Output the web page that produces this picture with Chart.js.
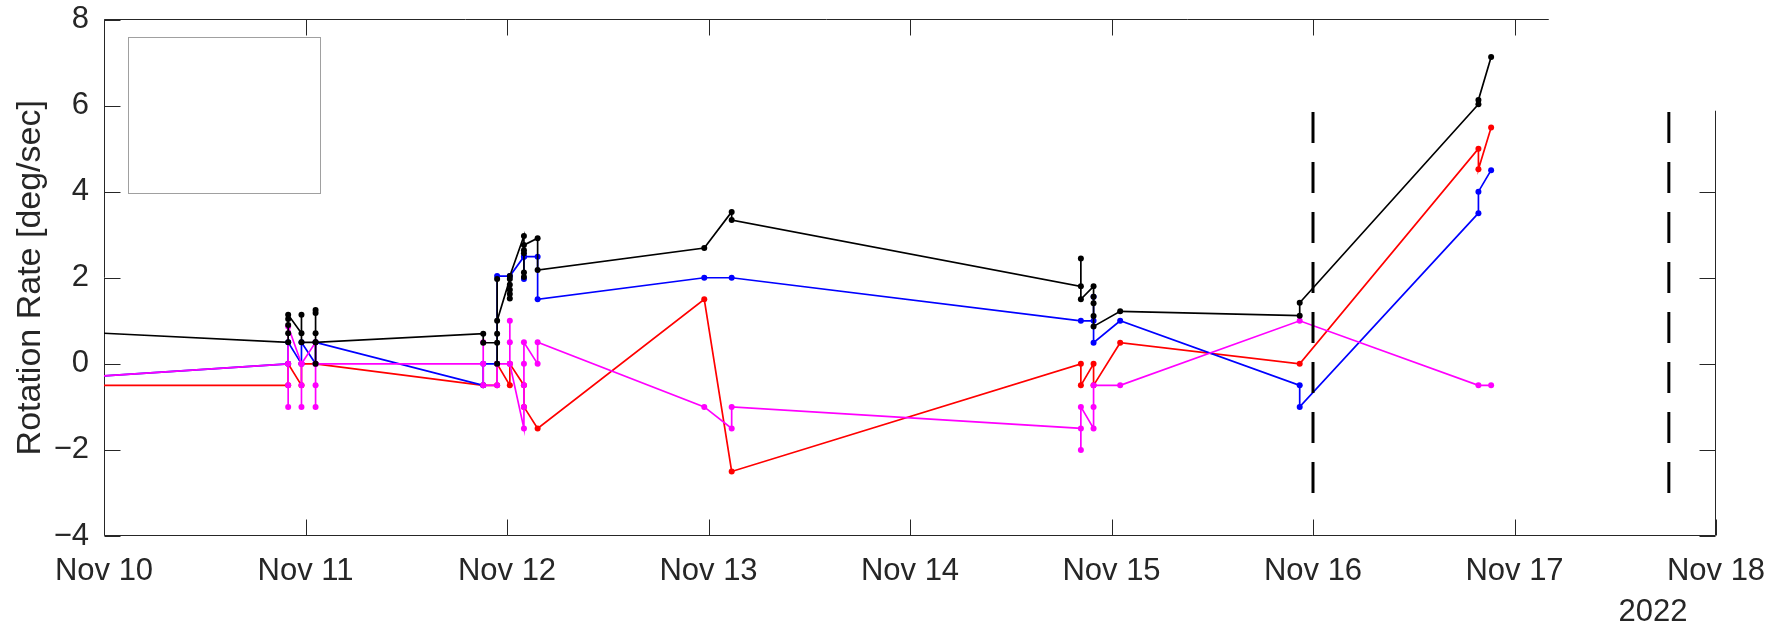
<!DOCTYPE html>
<html>
<head>
<meta charset="utf-8">
<script src="https://cdn.jsdelivr.net/npm/chart.js@4/dist/chart.umd.min.js"></script>
<style>
  html, body { margin: 0; padding: 0; background: #fff; }
  canvas { display: block; }
</style>
</head>
<body>
<canvas id="rateChart" width="1778" height="627"></canvas>
<script>
// sample times, in days after Nov 10 2022 00:00
const sampleDays = [0, 0.914, 0.980, 1.050, 1.882, 1.951, 2.014, 2.084, 2.152,
  2.979, 3.115, 4.848, 4.911, 5.043, 5.934, 6.821, 6.884]

// rates at each sample time (several readings per time, in plotting order)
const blackRate = [
  [0.71],
  [0.50, 0.71, 0.90, 1.04, 1.14],
  [0.71, 1.14, 0.50],
  [0.50, 0.00, 0.71, 1.18, 1.25, 0.50],
  [0.70, 0.49],
  [0.49, 0.00, 0.70, 1.97, 1.00],
  [1.97, 1.84, 1.72, 1.62, 1.52, 2.04],
  [2.97, 2.02, 2.12, 2.57, 2.64, 2.76],
  [2.92, 2.18],
  [2.69],
  [3.53, 3.34],
  [1.80, 2.45, 1.50],
  [1.80, 1.56, 1.41, 1.11, 0.87],
  [1.22],
  [1.12, 1.42],
  [6.03, 6.13],
  [7.13]
]
const blueRate = [
  [-0.28],
  [0.00, 0.50],
  [0.00, 0.50],
  [0.00, 0.50],
  [-0.50, 0.00],
  [0.00, 2.04],
  [2.04],
  [2.49, 1.97, 2.49],
  [2.49, 1.50],
  [2.00],
  [2.00],
  [1.00],
  [1.00, 1.56, 0.49],
  [1.00],
  [-0.50, -1.00],
  [3.50, 4.00],
  [4.50]
]
const redRate = [
  [-0.50],
  [-0.50, 0.00],
  [-0.50, 0.00],
  [0.00],
  [-0.50],
  [-0.50, 0.00],
  [-0.50, 0.00],
  [-0.50, -1.00],
  [-1.50],
  [1.50],
  [-2.50],
  [0.00, -0.50],
  [0.00, -0.50],
  [0.49],
  [0.00],
  [5.00, 4.52],
  [5.49]
]
const magentaRate = [
  [-0.28],
  [0.00, -0.50, -1.00, 0.87],
  [0.00, -0.50, -1.00, 0.00],
  [0.50, -0.50, -1.00, 0.00],
  [0.00, 0.50, -0.50],
  [-0.50, 0.00],
  [0.00, 1.00, 0.50, 0.00],
  [-1.50, -1.00, -0.50, 0.00, 0.50],
  [0.00, 0.50],
  [-1.00],
  [-1.50, -1.00],
  [-1.50, -2.00, -1.00],
  [-1.50, -1.00, -0.50],
  [-0.50],
  [1.00],
  [-0.50],
  [-0.50]
]

// dashed event markers
const eventDays = [6.0, 7.766]
const eventSpan = [-3, 6]

const dayLabels = ['Nov 10', 'Nov 11', 'Nov 12', 'Nov 13', 'Nov 14', 'Nov 15', 'Nov 16', 'Nov 17', 'Nov 18']
const yearLabel = '2022'

const axisColor = '#262626'
const tickLen = 16
// the top edge of the box is hidden past this day, the right edge above this rate
const frameCut = { day: 7.17, rate: 5.88 }

Chart.defaults.font.family = '"Liberation Sans", Arial, Helvetica, sans-serif'
Chart.defaults.color = axisColor

function toPoints (groups) {
  const pts = []
  groups.forEach((g, i) => g.forEach(v => pts.push({ x: sampleDays[i], y: v })))
  return pts
}

function series (groups, color) {
  return {
    data: toPoints(groups),
    borderColor: color,
    backgroundColor: color,
    borderWidth: 1.7,
    pointRadius: ctx => (ctx.raw && ctx.raw.x > 0 ? 3 : 0),
    pointBorderWidth: 0,
    pointBackgroundColor: color,
    tension: 0
  }
}

function eventLine (day) {
  return {
    data: [{ x: day, y: eventSpan[0] }, { x: day, y: eventSpan[1] }],
    borderColor: '#000',
    borderWidth: 3,
    borderDash: [31, 19],
    pointRadius: 0
  }
}

const axisLines = {
  id: 'axisLines',
  beforeDatasetsDraw (chart) {
    const { ctx, chartArea: a, scales: { x, y } } = chart
    const L = Math.round(a.left) + 0.5
    const R = Math.round(a.right) - 0.5
    const T = Math.round(a.top) - 0.5
    const B = Math.round(a.bottom) - 0.5
    const topEnd = x.getPixelForValue(frameCut.day)
    const rightTop = y.getPixelForValue(frameCut.rate)
    ctx.save()
    ctx.strokeStyle = axisColor
    ctx.lineWidth = 1
    ctx.beginPath()
    ctx.moveTo(topEnd, T)
    ctx.lineTo(L, T)
    ctx.lineTo(L, B)
    ctx.lineTo(R, B)
    ctx.lineTo(R, rightTop)
    x.ticks.forEach(t => {
      const px = Math.round(x.getPixelForValue(t.value)) + 0.5
      ctx.moveTo(px, B)
      ctx.lineTo(px, B - tickLen)
      if (px < topEnd) {
        ctx.moveTo(px, T)
        ctx.lineTo(px, T + tickLen)
      }
    })
    y.ticks.forEach(t => {
      const py = Math.round(y.getPixelForValue(t.value)) + 0.5
      ctx.moveTo(L, py)
      ctx.lineTo(L + tickLen, py)
      if (py > rightTop) {
        ctx.moveTo(R, py)
        ctx.lineTo(R - tickLen, py)
      }
    })
    ctx.stroke()
    ctx.restore()
  },
  afterDraw (chart) {
    const { ctx, chartArea: a } = chart
    ctx.save()
    // empty legend box
    ctx.fillStyle = '#fff'
    ctx.strokeStyle = '#a0a0a0'
    ctx.lineWidth = 1
    ctx.fillRect(a.left + 24.5, a.top + 18, 192, 156)
    ctx.strokeRect(a.left + 24.5, a.top + 18, 192, 156)
    // year under the time axis
    ctx.fillStyle = axisColor
    ctx.font = '31px "Liberation Sans", Arial, sans-serif'
    ctx.textAlign = 'center'
    ctx.textBaseline = 'middle'
    ctx.fillText(yearLabel, a.right - 63, a.bottom + 76)
    ctx.restore()
  }
}

new Chart(document.getElementById('rateChart'), {
  type: 'line',
  data: {
    datasets: [
      eventLine(eventDays[0]),
      eventLine(eventDays[1]),
      series(blackRate, '#000000'),
      series(magentaRate, '#ff00ff'),
      series(blueRate, '#0000ff'),
      series(redRate, '#ff0000')
    ]
  },
  options: {
    responsive: false,
    animation: false,
    devicePixelRatio: 1,
    events: [],
    layout: { padding: { top: 19.5, right: 62, left: 0, bottom: 0 } },
    plugins: {
      legend: { display: false },
      tooltip: { enabled: false }
    },
    scales: {
      x: {
        type: 'linear',
        min: 0,
        max: 8,
        grid: { display: false, drawTicks: false },
        border: { display: false },
        ticks: {
          stepSize: 1,
          autoSkip: false,
          maxRotation: 0,
          padding: 17,
          font: { size: 31 },
          callback: v => dayLabels[v]
        },
        afterFit: s => {
          s.height = 91
          s.paddingLeft = 0
          s.paddingRight = 0
        }
      },
      y: {
        min: -4,
        max: 8,
        grid: { display: false, drawTicks: false },
        border: { display: false },
        ticks: {
          stepSize: 2,
          padding: 15,
          font: { size: 31 },
          callback: v => String(v).replace('-', '\u2212')
        },
        title: {
          display: true,
          text: 'Rotation Rate [deg/sec]',
          font: { size: 34 },
          padding: { top: 10, bottom: 0 }
        },
        afterFit: s => {
          s.width = 104
          s.paddingTop = 0
          s.paddingBottom = 0
        }
      }
    }
  },
  plugins: [axisLines]
})
</script>
</body>
</html>
